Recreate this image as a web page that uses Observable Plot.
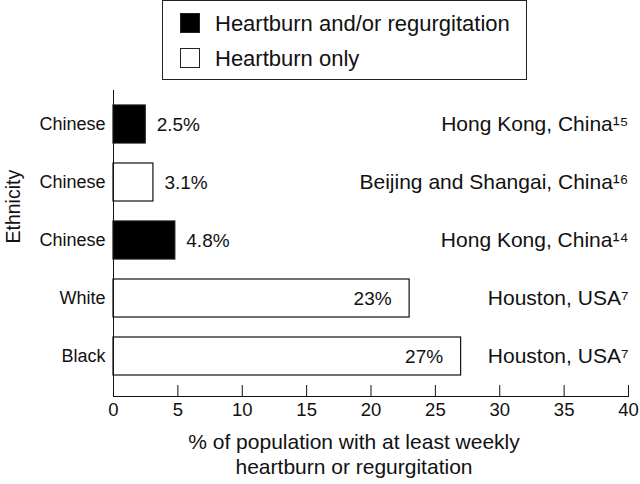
<!DOCTYPE html>
<html>
<head>
<meta charset="utf-8">
<script src="https://cdn.jsdelivr.net/npm/d3@7"></script>
<script src="https://cdn.jsdelivr.net/npm/@observablehq/plot@0.6"></script>
<style>
  html, body { margin: 0; padding: 0; background: #fff; }
  body { font-family: "Liberation Sans", Arial, sans-serif; color: #111; width: 640px; }
  #legend { position: relative; width: 640px; height: 88px; }
  #legend .box { position: absolute; left: 162px; top: 0px; width: 365px; height: 80px; border: 1.5px solid #222; box-sizing: border-box; }
  #legend .sw { position: absolute; left: 180px; width: 20px; height: 20px; border: 1.5px solid #222; box-sizing: border-box; }
  #legend .lab { position: absolute; left: 215px; font-size: 22px; line-height: 24px; white-space: nowrap; }
  #chart svg { display: block; }
</style>
</head>
<body>
<div id="legend"><div class="box"></div></div>
<div id="chart"></div>
<script>
// ---- data ----
const ethnicities = ["Chinese", "Chinese", "Chinese", "White", "Black"];
const values = [2.5, 3.1, 4.8, 23, 27];
const valueLabels = ["2.5%", "3.1%", "4.8%", "23%", "27%"];
const types = ["Heartburn and/or regurgitation", "Heartburn only", "Heartburn and/or regurgitation", "Heartburn only", "Heartburn only"];
const locations = ["Hong Kong, China\u00B9\u2075", "Beijing and Shangai, China\u00B9\u2076", "Hong Kong, China\u00B9\u2074", "Houston, USA\u2077", "Houston, USA\u2077"];
const legendTypes = ["Heartburn and/or regurgitation", "Heartburn only"];
const legendColors = ["#000", "#fff"];
const xTicks = [0, 5, 10, 15, 20, 25, 30, 35, 40];
const xTitle = "% of population with at least weekly\nheartburn or regurgitation";
const yTitle = "Ethnicity";

const rows = ethnicities.map((e, i) => ({
  key: i, ethnicity: e, value: values[i], label: valueLabels[i], type: types[i], location: locations[i]
}));

// ---- legend (HTML, above the SVG) ----
const legend = document.getElementById("legend");
legendTypes.forEach((t, i) => {
  const sw = document.createElement("div");
  sw.className = "sw";
  sw.style.top = (13 + i * 35) + "px";
  sw.style.background = legendColors[i];
  legend.appendChild(sw);
  const lab = document.createElement("div");
  lab.className = "lab";
  lab.style.top = (12 + i * 35) + "px";
  lab.textContent = t;
  legend.appendChild(lab);
});

// ---- chart ----
const chart = Plot.plot({
  width: 640,
  height: 396,
  marginTop: 2,
  marginBottom: 88,
  marginLeft: 113,
  marginRight: 12,
  style: { fontFamily: "Liberation Sans, Arial, sans-serif", color: "#111", background: "#fff" },
  x: { domain: [0, 40] },
  y: { domain: rows.map(d => d.key), paddingInner: 0.345, paddingOuter: 0.31, align: 0.42 },
  color: { domain: legendTypes, range: legendColors },
  marks: [
    Plot.barX(rows, { x: "value", y: "key", fill: "type", stroke: "#111", strokeWidth: 1.2 }),
    Plot.text(rows.filter(d => d.value < 10), { x: "value", y: "key", text: "label", textAnchor: "start", dx: 11, fontSize: 19, fill: "#111" }),
    Plot.text(rows.filter(d => d.value >= 10), { x: "value", y: "key", text: "label", textAnchor: "end", dx: -18, fontSize: 19, fill: "#111" }),
    Plot.text(rows, { y: "key", text: "location", frameAnchor: "right", textAnchor: "end", fontSize: 21, fill: "#111" }),
    Plot.axisY({ tickSize: 0, tickPadding: 8, fontSize: 18, label: null, tickFormat: k => ethnicities[k] }),
    Plot.tickX(xTicks, { x: d => d, insetTop: 295, stroke: "#111" }),
    Plot.axisX({ ticks: xTicks, tickSize: 0, tickPadding: 6, fontSize: 18.5, label: null }),
    Plot.frame({ anchor: "bottom", stroke: "#111" }),
    Plot.frame({ anchor: "left", stroke: "#111" }),
    Plot.text([yTitle], { frameAnchor: "left", rotate: -90, dx: -100, fontSize: 19.5, fill: "#111" }),
    Plot.text([xTitle], { frameAnchor: "bottom", lineAnchor: "middle", dx: -17, dy: 57, lineHeight: 1.2, fontSize: 21, fill: "#111" })
  ]
});
document.getElementById("chart").appendChild(chart);
</script>
</body>
</html>
